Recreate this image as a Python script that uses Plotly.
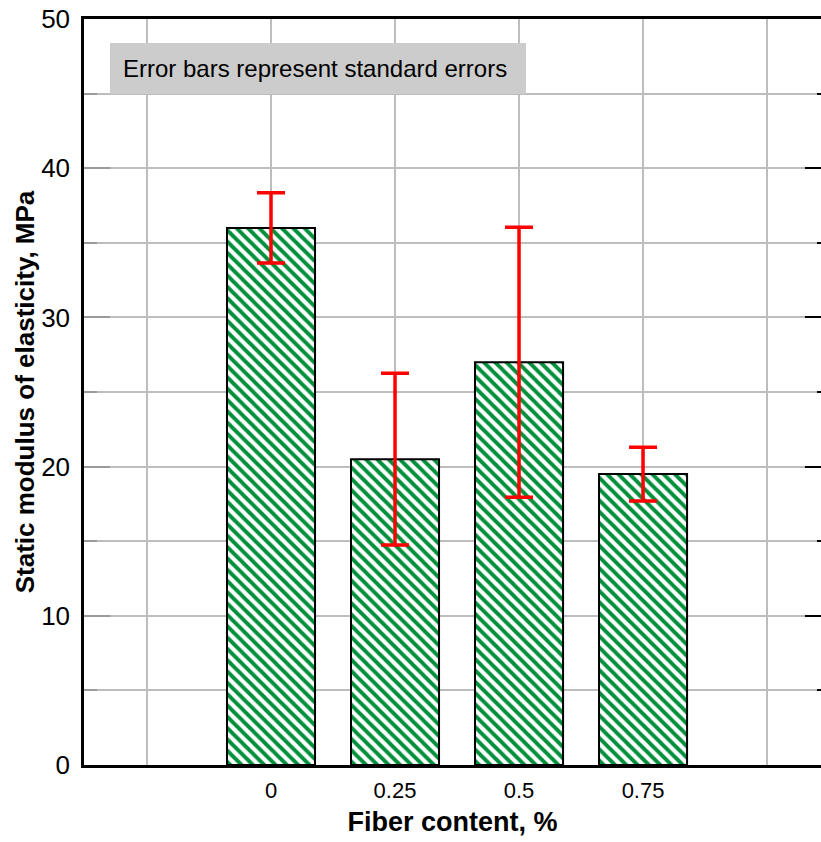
import plotly.graph_objects as go

# Data
categories = ["0", "0.25", "0.5", "0.75"]
modulus = [36.0, 20.5, 27.0, 19.5]
std_err = [2.35, 5.75, 9.05, 1.8]
y_ticks = [0, 10, 20, 30, 40, 50]

x_pos = list(range(1, len(categories) + 1))
tick_positions = list(range(0, len(categories) + 2))
tick_text = [""] + categories + [""]

FONT = "Liberation Sans, Arial, Helvetica, sans-serif"
GREEN = "#008f3a"
GRID = "#bdbdbd"

fig = go.Figure()
fig.add_trace(go.Bar(
    x=x_pos, y=modulus, width=0.71,
    marker=dict(color="white", line=dict(color="black", width=2),
                pattern=dict(shape="\\", fgcolor=GREEN, bgcolor="white", size=8,
                             solidity=0.48, fgopacity=1)),
    error_y=dict(type="data", array=std_err, visible=True, color="red", thickness=3.5, width=14),
    showlegend=False, hoverinfo="skip",
))
# invisible trace for right-hand tick axis
fig.add_trace(go.Scatter(x=[x_pos[0]], y=[0], yaxis="y2", mode="markers",
                         marker=dict(opacity=0), showlegend=False, hoverinfo="skip"))

fig.update_layout(
    width=821, height=842,
    margin=dict(l=84, r=0, t=19, b=77),
    paper_bgcolor="white", plot_bgcolor="white",
    font=dict(family=FONT, color="black"),
    xaxis=dict(
        range=[-0.508, 5.435], tickvals=tick_positions, ticktext=tick_text,
        showgrid=True, gridcolor=GRID, gridwidth=2,
        showline=True, linecolor="black", linewidth=2.5, mirror=True,
        ticks="", tickfont=dict(size=22), ticklabelstandoff=4,
        title=dict(text="<b>Fiber content, %</b>", font=dict(size=27), standoff=10),
        zeroline=False,
    ),
    yaxis=dict(
        range=[0, 50], tickvals=y_ticks,
        showgrid=True, gridcolor=GRID, gridwidth=2,
        showline=True, linecolor="black", linewidth=2.5,
        ticks="inside", ticklen=26, tickwidth=2, tickcolor="#9a9a9a",
        minor=dict(dtick=5, ticks="inside", ticklen=13, tickwidth=2, tickcolor="#9a9a9a",
                   showgrid=True, gridcolor=GRID, gridwidth=2),
        tickfont=dict(size=26), ticklabelstandoff=6,
        title=dict(text="<b>Static modulus of elasticity, MPa</b>", font=dict(size=26), standoff=0),
        zeroline=False,
    ),
    yaxis2=dict(
        range=[0, 50], tickvals=y_ticks, overlaying="y", side="right",
        showgrid=False, showticklabels=False, showline=False, zeroline=False,
        ticks="inside", ticklen=16, tickwidth=2, tickcolor="black",
        minor=dict(dtick=5, ticks="inside", ticklen=4, tickwidth=2, tickcolor="black", showgrid=False),
    ),
    shapes=[dict(type="rect", xref="paper", yref="paper",
                 x0=0.0353, x1=0.5997, y0=0.8995, y1=0.9678,
                 fillcolor="#cccccc", line=dict(width=0), layer="above")],
    annotations=[dict(text="Error bars represent standard errors", xref="paper", yref="paper",
                      x=0.0505, y=0.9336, xanchor="left", yanchor="middle", showarrow=False,
                      font=dict(size=24, color="black"))],
)

fig.write_html("out.html")
